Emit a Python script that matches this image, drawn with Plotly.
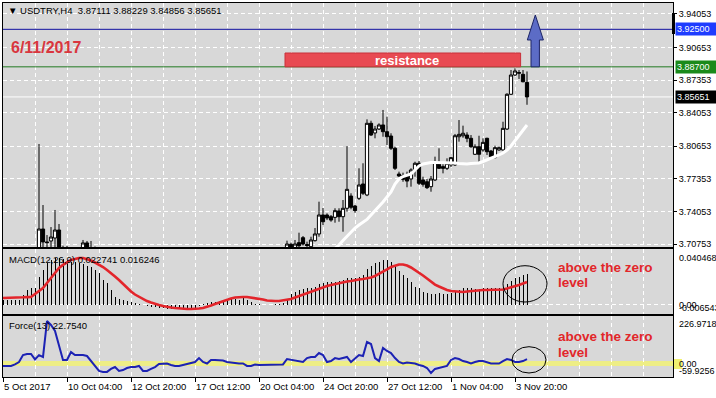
import plotly.graph_objects as go
from plotly.subplots import make_subplots

# ---------------- data ----------------
bars = list(range(132))
opens = [3.5680, 3.5710, 3.5740, 3.5770, 3.5750, 3.5810, 3.5880, 3.5920, 3.5990, 3.6380,
         3.7227, 3.7096, 3.7106, 3.7136, 3.7217, 3.6850, 3.6970, 3.6940, 3.6850, 3.6800,
         3.6920, 3.7086, 3.6990, 3.6960, 3.6920, 3.6850, 3.6760, 3.6710, 3.6700, 3.6640,
         3.6680, 3.6650, 3.6600, 3.6630, 3.6610, 3.6550, 3.6520, 3.6570, 3.6500, 3.6460,
         3.6510, 3.6480, 3.6420, 3.6470, 3.6510, 3.6490, 3.6530, 3.6570, 3.6600, 3.6650,
         3.6720, 3.6690, 3.6710, 3.6750, 3.6760, 3.6790, 3.6800, 3.6780, 3.6810, 3.6790,
         3.6760, 3.6740, 3.6720, 3.6700, 3.6730, 3.6710, 3.6750, 3.6780, 3.6820, 3.6870,
         3.6920, 3.6980, 3.7072, 3.7000, 3.7089, 3.7139, 3.7070, 3.7048, 3.7109, 3.7177,
         3.7369, 3.7369, 3.7352, 3.7345, 3.7410, 3.7352, 3.7437, 3.7561, 3.7460, 3.7538,
         3.7683, 3.7572, 3.8298, 3.8200, 3.8240, 3.8281, 3.8213, 3.8169, 3.8045, 3.7784,
         3.7767, 3.7764, 3.7734, 3.7825, 3.7893, 3.7724, 3.7706, 3.7656, 3.7724, 3.7903,
         3.7859, 3.7842, 3.7876, 3.7876, 3.8162, 3.8172, 3.8179, 3.8146, 3.7984, 3.8061,
         3.8028, 3.8146, 3.8017, 3.7950, 3.8028, 3.8028, 3.8240, 3.8592, 3.8787, 3.8804,
         3.8794, 3.87111]
highs = [3.5740, 3.5760, 3.5790, 3.5810, 3.5830, 3.5900, 3.5950, 3.6010, 3.6050, 3.8088,
         3.7470, 3.7166, 3.7247, 3.7420, 3.7278, 3.7058, 3.7055, 3.7000, 3.6950, 3.6950,
         3.7116, 3.7106, 3.7106, 3.7050, 3.6980, 3.6900, 3.6820, 3.6790, 3.6760, 3.6720,
         3.6750, 3.6700, 3.6680, 3.6700, 3.6650, 3.6620, 3.6600, 3.6620, 3.6580, 3.6540,
         3.6570, 3.6530, 3.6500, 3.6550, 3.6580, 3.6560, 3.6610, 3.6640, 3.6700, 3.6760,
         3.6780, 3.6750, 3.6790, 3.6810, 3.6830, 3.6850, 3.6860, 3.6840, 3.6870, 3.6840,
         3.6820, 3.6790, 3.6780, 3.6760, 3.6790, 3.6770, 3.6810, 3.6850, 3.6900, 3.6950,
         3.7000, 3.7109, 3.7089, 3.7116, 3.7190, 3.7156, 3.7099, 3.7149, 3.7237, 3.7504,
         3.7440, 3.7386, 3.7369, 3.7437, 3.7437, 3.7521, 3.8068, 3.7589, 3.7470, 3.7842,
         3.7893, 3.8338, 3.8324, 3.8271, 3.8298, 3.8433, 3.8365, 3.8197, 3.8061, 3.7808,
         3.7798, 3.7808, 3.7842, 3.7909, 3.7916, 3.7757, 3.7734, 3.7764, 3.7960, 3.8045,
         3.7893, 3.7943, 3.7955, 3.8190, 3.8331, 3.8274, 3.8207, 3.8179, 3.8085, 3.8172,
         3.8146, 3.8152, 3.8028, 3.8071, 3.8061, 3.8314, 3.8602, 3.8838, 3.8855, 3.8838,
         3.8838, 3.88229]
lows = [3.5650, 3.5690, 3.5720, 3.5730, 3.5740, 3.5800, 3.5860, 3.5900, 3.5970, 3.6350,
        3.6820, 3.6950, 3.6980, 3.6950, 3.6780, 3.6790, 3.6880, 3.6800, 3.6750, 3.6780,
        3.6900, 3.6950, 3.6900, 3.6880, 3.6800, 3.6720, 3.6680, 3.6650, 3.6600, 3.6580,
        3.6620, 3.6550, 3.6540, 3.6580, 3.6500, 3.6480, 3.6450, 3.6480, 3.6420, 3.6400,
        3.6440, 3.6380, 3.6350, 3.6420, 3.6450, 3.6430, 3.6480, 3.6520, 3.6560, 3.6610,
        3.6650, 3.6630, 3.6670, 3.6700, 3.6710, 3.6740, 3.6750, 3.6720, 3.6760, 3.6730,
        3.6700, 3.6680, 3.6660, 3.6650, 3.6680, 3.6660, 3.6700, 3.6740, 3.6780, 3.6830,
        3.6880, 3.6950, 3.6980, 3.6990, 3.7030, 3.7060, 3.7040, 3.7030, 3.7100, 3.7149,
        3.7268, 3.7318, 3.7301, 3.7291, 3.7301, 3.7200, 3.7402, 3.7427, 3.7392, 3.7521,
        3.7572, 3.7560, 3.8170, 3.8146, 3.8230, 3.8162, 3.8078, 3.8028, 3.7825, 3.7751,
        3.7706, 3.7650, 3.7656, 3.7757, 3.7673, 3.7656, 3.7632, 3.7605, 3.7713, 3.7835,
        3.7791, 3.7825, 3.7855, 3.7865, 3.8112, 3.8152, 3.8106, 3.8050, 3.7977, 3.7909,
        3.8010, 3.7977, 3.7936, 3.7943, 3.8020, 3.8020, 3.8230, 3.8585, 3.8777, 3.8747,
        3.8713, 3.84856]
closes = [3.5710, 3.5740, 3.5770, 3.5750, 3.5810, 3.5880, 3.5920, 3.5990, 3.6020, 3.7227,
          3.7096, 3.7090, 3.7146, 3.7217, 3.6850, 3.6970, 3.6940, 3.6850, 3.6800, 3.6920,
          3.7086, 3.6990, 3.6960, 3.6920, 3.6850, 3.6760, 3.6710, 3.6700, 3.6640, 3.6680,
          3.6650, 3.6600, 3.6630, 3.6610, 3.6550, 3.6520, 3.6570, 3.6500, 3.6460, 3.6510,
          3.6480, 3.6420, 3.6470, 3.6510, 3.6490, 3.6530, 3.6570, 3.6600, 3.6650, 3.6720,
          3.6690, 3.6710, 3.6750, 3.6760, 3.6790, 3.6800, 3.6780, 3.6810, 3.6790, 3.6760,
          3.6740, 3.6720, 3.6700, 3.6730, 3.6710, 3.6750, 3.6780, 3.6820, 3.6870, 3.6920,
          3.6980, 3.7075, 3.7000, 3.7075, 3.7058, 3.7075, 3.7060, 3.7116, 3.7177, 3.7369,
          3.7301, 3.7339, 3.7318, 3.7413, 3.7352, 3.7437, 3.7629, 3.7447, 3.7413, 3.7673,
          3.7589, 3.8298, 3.8179, 3.8240, 3.8281, 3.8213, 3.8162, 3.8045, 3.7842, 3.7764,
          3.7730, 3.7713, 3.7825, 3.7893, 3.7690, 3.7680, 3.7646, 3.7734, 3.7903, 3.7842,
          3.7842, 3.7893, 3.7950, 3.8172, 3.8186, 3.8197, 3.8146, 3.8061, 3.8061, 3.7984,
          3.8105, 3.8010, 3.7960, 3.8051, 3.8051, 3.8247, 3.8592, 3.8787, 3.8828, 3.8812,
          3.8719, 3.85651]
ma_white = [None] * 78 + [
    3.6800, 3.6850, 3.6900, 3.6950, 3.6995, 3.7030, 3.7065, 3.7111, 3.7156, 3.7202,
    3.7237, 3.7268, 3.7293, 3.7324, 3.7369, 3.7410, 3.7450, 3.7501, 3.7551, 3.7602,
    3.7683, 3.7734, 3.7759, 3.7769, 3.7784, 3.7825, 3.7865, 3.7886, 3.7896, 3.7901,
    3.7901, 3.7901, 3.7901, 3.7901, 3.7901, 3.7896, 3.7891, 3.7886, 3.7886, 3.7891,
    3.7896, 3.7896, 3.7911, 3.7926, 3.7946, 3.7962, 3.7977, 3.7997, 3.8027, 3.8068,
    3.8119, 3.8174, 3.8230, 3.8281]
macd_main = [0.0039, 0.0039, 0.0039, 0.0035, 0.0039, 0.0082, 0.0125, 0.0142, 0.0142, 0.0237,
             0.0297, 0.0358, 0.0384, 0.0401, 0.0401, 0.0392, 0.0384, 0.0366, 0.0366, 0.0358,
             0.0349, 0.0332, 0.0323, 0.0297, 0.0272, 0.0211, 0.0185, 0.0125, 0.0065, 0.0047,
             0.0039, 0.0030, 0.0022, 0.0013, 0.0004, -0.0004, -0.0013, -0.0018, -0.0022, -0.0026,
             -0.0030, -0.0035, -0.0039, -0.0039, -0.0039, -0.0035, -0.0035, -0.0030, -0.0030, -0.0013,
             0.0004, 0.0013, 0.0018, 0.0022, 0.0030, 0.0039, 0.0042, 0.0047, 0.0047, 0.0042,
             0.0053, 0.0039, 0.0022, 0.0004, 0.0004, 0.0000, -0.0004, 0.0000, 0.0004, 0.0004,
             0.0009, 0.0039, 0.0091, 0.0108, 0.0125, 0.0134, 0.0142, 0.0142, 0.0151, 0.0177,
             0.0185, 0.0194, 0.0194, 0.0194, 0.0203, 0.0211, 0.0228, 0.0228, 0.0228, 0.0237,
             0.0254, 0.0310, 0.0332, 0.0358, 0.0366, 0.0384, 0.0384, 0.0366, 0.0332, 0.0289,
             0.0254, 0.0228, 0.0194, 0.0151, 0.0142, 0.0108, 0.0099, 0.0091, 0.0091, 0.0099,
             0.0091, 0.0091, 0.0099, 0.0108, 0.0125, 0.0142, 0.0142, 0.0142, 0.0134, 0.0134,
             0.0142, 0.0142, 0.0142, 0.0142, 0.0142, 0.0151, 0.0177, 0.0203, 0.0228, 0.0237,
             0.0254, 0.0263]
macd_signal = [0.0056, 0.0056, 0.0056, 0.0058, 0.0060, 0.0062, 0.0064, 0.0065, 0.0091, 0.0116,
               0.0142, 0.0185, 0.0228, 0.0272, 0.0315, 0.0341, 0.0366, 0.0384, 0.0392, 0.0401,
               0.0401, 0.0392, 0.0379, 0.0362, 0.0345, 0.0323, 0.0297, 0.0272, 0.0241, 0.0211,
               0.0177, 0.0142, 0.0112, 0.0086, 0.0065, 0.0047, 0.0030, 0.0017, 0.0004, -0.0004,
               -0.0013, -0.0022, -0.0026, -0.0030, -0.0034, -0.0039, -0.0039, -0.0039, -0.0039, -0.0034,
               -0.0030, -0.0022, -0.0009, 0.0004, 0.0017, 0.0030, 0.0043, 0.0052, 0.0060, 0.0065,
               0.0065, 0.0065, 0.0060, 0.0056, 0.0052, 0.0043, 0.0034, 0.0030, 0.0030, 0.0030,
               0.0034, 0.0039, 0.0047, 0.0060, 0.0073, 0.0086, 0.0099, 0.0112, 0.0125, 0.0138,
               0.0151, 0.0159, 0.0168, 0.0177, 0.0185, 0.0190, 0.0198, 0.0203, 0.0211, 0.0216,
               0.0220, 0.0224, 0.0233, 0.0246, 0.0263, 0.0280, 0.0302, 0.0323, 0.0336, 0.0345,
               0.0345, 0.0336, 0.0319, 0.0297, 0.0276, 0.0250, 0.0224, 0.0194, 0.0172, 0.0155,
               0.0138, 0.0125, 0.0116, 0.0112, 0.0108, 0.0108, 0.0112, 0.0116, 0.0121, 0.0125,
               0.0125, 0.0125, 0.0125, 0.0125, 0.0125, 0.0129, 0.0138, 0.0147, 0.0159, 0.0168,
               0.0181, 0.0194]
force = [-13, -13, -13, -5, 8, 45, 51, 51, 22, 45,
         35, 227, 206, 174, 99, 19, 19, 61, 45, 45,
         45, 40, 13, -13, -40, -45, -45, -29, -19, -40,
         -35, -24, -19, -19, -13, -40, -40, -29, -19, -3,
         0, 0, -8, -13, -13, -8, -5, 0, 8, 29,
         8, 0, 19, 19, 19, 16, 8, 5, 0, 0,
         0, -13, -13, -5, -8, -8, -8, -8, -8, -8,
         -5, 24, 19, 16, 13, 8, 29, 35, 35, 56,
         45, 8, 13, 29, 24, 29, 35, 8, 29, 45,
         40, 115, 104, 29, 13, 83, 67, 56, 29, 8,
         0, 5, 3, 0, -8, -13, -24, -51, -29, -24,
         -19, -13, 19, 29, 24, 13, 8, 0, 8, 13,
         13, 8, 0, 0, 0, 13, 24, 19, 8, 8,
         13, 23]

x_label_bars = [0, 16, 32, 48, 64, 80, 96, 112, 128]
x_labels = ["5 Oct 2017", "10 Oct 04:00", "12 Oct 20:00", "17 Oct 12:00", "20 Oct 04:00",
            "24 Oct 20:00", "27 Oct 12:00", "1 Nov 04:00", "3 Nov 20:00"]
x_grid_minor = [8, 24, 40, 56, 72, 88, 104, 120, 136, 144, 152, 160]
price_ticks = [3.70753, 3.74053, 3.77353, 3.80653, 3.84053, 3.87353, 3.90653, 3.94053]
level_blue = 3.92500
level_green = 3.88700
bid_price = 3.85651
resistance_top = 3.9010
macd_top_label = 0.040468
macd_bottom_label = -0.006543
force_top_label = 226.9718
force_bottom_label = -59.9256

# ---------------- layout helpers (pixel geometry) ----------------
W, H = 716, 398
ML, MR, MT, MB = 3, 43, 3, 21
PW, PH = W - ML - MR, H - MT - MB


def py(ypix):
    return (H - MB - ypix) / PH


def px(xpix):
    return (xpix - ML) / PW


FONT = "Liberation Sans, Arial, sans-serif"
RFS = 9  # right-scale font size
GRID = dict(showgrid=True, gridcolor="white", griddash="4px,3px", gridwidth=1)

fig = make_subplots(rows=3, cols=1, shared_xaxes=True, vertical_spacing=0)

fig.add_trace(go.Candlestick(
    x=bars, open=opens, high=highs, low=lows, close=closes,
    increasing=dict(line=dict(color="black", width=1), fillcolor="white"),
    decreasing=dict(line=dict(color="black", width=1), fillcolor="black"),
    whiskerwidth=0, showlegend=False, hoverinfo="skip"), row=1, col=1)
fig.add_trace(go.Scatter(x=bars, y=ma_white, mode="lines",
                         line=dict(color="white", width=3), showlegend=False,
                         hoverinfo="skip"), row=1, col=1)
fig.add_trace(go.Bar(x=bars, y=macd_main, width=0.25, marker=dict(color="black", line=dict(width=0)),
                     showlegend=False, hoverinfo="skip"), row=2, col=1)
fig.add_trace(go.Scatter(x=bars, y=macd_signal, mode="lines",
                         line=dict(color="#e3252b", width=2.6), showlegend=False,
                         hoverinfo="skip"), row=2, col=1)
fig.add_trace(go.Scatter(x=bars, y=force, mode="lines",
                         line=dict(color="#1c22b4", width=2), showlegend=False,
                         hoverinfo="skip"), row=3, col=1)

xcommon = dict(range=[0, PW / 4], tickmode="array", tickvals=list(range(0, 161, 16)),
               showticklabels=False, showline=True, linecolor="black", linewidth=1,
               mirror=True, zeroline=False, rangeslider=dict(visible=False),
               minor=dict(tickvals=x_grid_minor, showgrid=True, gridcolor="white",
                          griddash="4px,3px", ticks=""), **GRID)
fig.update_layout(
    xaxis=dict(xcommon), xaxis2=dict(xcommon),
    xaxis3=dict(xcommon, tickvals=x_label_bars, ticks="outside", ticklen=4,
                tickcolor="black",
                minor=dict(tickvals=x_grid_minor + [144, 160], showgrid=True,
                           gridcolor="white", griddash="4px,3px", ticks="")),
)

fig.update_layout(
    yaxis=dict(domain=[py(247), 1], range=[3.9547 - 0.001013 * 247, 3.9547 - 0.001013 * 3],
               side="right", tickmode="array", tickvals=price_ticks,
               ticktext=[f"{v:.5f}" for v in price_ticks], ticks="outside", ticklen=3,
               tickcolor="black", tickfont=dict(family=FONT, size=RFS, color="black"),
               showline=True, linecolor="black", mirror=True, zeroline=False, **GRID),
    yaxis2=dict(domain=[py(314), py(249)], range=[(304.5 - 314) / 1160, (304.5 - 249) / 1160],
                tickmode="array", tickvals=[0], showticklabels=False, showline=True,
                linecolor="black", mirror=True, zeroline=False, **GRID),
    yaxis3=dict(domain=[0, py(316)], range=[(363.5 - 377) / 0.187, (363.5 - 316) / 0.187],
                showgrid=False, showticklabels=False, showline=True, linecolor="black",
                mirror=True, zeroline=False),
)

shapes = []
# force zero level (yellow)
shapes.append(dict(type="line", xref="x3", yref="y3", x0=0, x1=PW / 4, y0=0, y1=0,
                   line=dict(color="#eeee86", width=5), layer="below"))
# horizontal levels
shapes.append(dict(type="line", xref="x", yref="y", x0=0, x1=PW / 4, y0=level_blue,
                   y1=level_blue, line=dict(color="#1010a0", width=1)))
shapes.append(dict(type="line", xref="x", yref="y", x0=0, x1=PW / 4, y0=level_green,
                   y1=level_green, line=dict(color="#217a21", width=1)))
shapes.append(dict(type="line", xref="x", yref="y", x0=0, x1=PW / 4, y0=bid_price,
                   y1=bid_price, line=dict(color="white", width=1), layer="below"))
# resistance box
shapes.append(dict(type="rect", xref="x", yref="y", x0=70.5, x1=129.4, y0=level_green,
                   y1=resistance_top, fillcolor="#e84a52", line=dict(color="#c8303a", width=1)))
# blue arrow
shapes.append(dict(type="path", xref="x", yref="y",
                   path="M 132,3.887 L 134.1,3.887 L 134.1,3.9142 L 135.1,3.9142 "
                        "L 133.08,3.9395 L 131.08,3.9142 L 132,3.9142 Z",
                   fillcolor="#5c6cc6", line=dict(color="#1c2466", width=1)))
# ellipses
shapes.append(dict(type="circle", xref="x2", yref="paper", x0=125, x1=136, y0=py(302),
                   y1=py(265.7), line=dict(color="black", width=1)))
shapes.append(dict(type="circle", xref="x3", yref="paper", x0=127.25, x1=135.75, y0=py(373),
                   y1=py(346.7), line=dict(color="black", width=1)))
# chart-shift marker on the right axis
shapes.append(dict(type="rect", xref="paper", yref="paper", x0=1 - 1 / PW, x1=1 + 2 / PW,
                   y0=py(34), y1=py(13), fillcolor="black", line=dict(width=0)))
# yellow highlight behind the force zero label
shapes.append(dict(type="rect", xref="paper", yref="paper", x0=1 + 1 / PW, x1=1 + 9 / PW,
                   y0=py(369), y1=py(359), fillcolor="#f0f070", line=dict(width=0)))

ann = []
ann.append(dict(xref="paper", yref="paper", x=px(6), y=py(11), xanchor="left", yanchor="middle",
                text="▼ USDTRY,H4\u00a0 3.87111 3.88229 3.84856 3.85651", showarrow=False,
                font=dict(family=FONT, size=9.5, color="black")))
ann.append(dict(xref="paper", yref="paper", x=px(9), y=py(47), xanchor="left", yanchor="middle",
                text="<b>6/11/2017</b>", showarrow=False,
                font=dict(family=FONT, size=16, color="#d9363e")))
ann.append(dict(xref="x", yref="y", x=101.1, y=3.8939, text="<b>resistance</b>",
                showarrow=False, font=dict(family=FONT, size=13, color="white")))
ann.append(dict(xref="paper", yref="paper", x=px(7), y=py(259), xanchor="left",
                yanchor="middle", text="MACD(12,26,9) 0.022741 0.016246", showarrow=False,
                font=dict(family=FONT, size=9.5, color="black")))
ann.append(dict(xref="paper", yref="paper", x=px(7), y=py(325.5), xanchor="left",
                yanchor="middle", text="Force(13) 22.7540", showarrow=False,
                font=dict(family=FONT, size=9.5, color="black")))
for txt, yy in [("above the zero", 267), ("level", 282.5), ("above the zero", 336),
                ("level", 352)]:
    ann.append(dict(xref="paper", yref="paper", x=px(556), y=py(yy), xanchor="left",
                    yanchor="middle", text=f"<b>{txt}</b>", showarrow=False,
                    font=dict(family=FONT, size=13.5, color="#e2262a")))
# price boxes on the right axis
for val, bg in [(level_blue, "#1e3cff"), (level_green, "#1a8a1a"), (bid_price, "black")]:
    ann.append(dict(xref="paper", yref="y", x=1 + 2 / PW, y=val, xanchor="left",
                    yanchor="middle", text=f"{val:.5f}", showarrow=False, bgcolor=bg,
                    width=38, align="left", borderpad=1,
                    font=dict(family=FONT, size=RFS, color="white")))
# indicator window scale labels
RX = 1 + 4 / PW
ann.append(dict(xref="paper", yref="y2", x=RX, y=macd_top_label, xanchor="left",
                yanchor="middle", text=f"{macd_top_label:.6f}", showarrow=False,
                font=dict(family=FONT, size=RFS, color="black")))
ann.append(dict(xref="paper", yref="y2", x=RX, y=macd_bottom_label, yshift=4,
                xanchor="left", yanchor="middle", text=f"{macd_bottom_label:.6f}",
                showarrow=False, font=dict(family=FONT, size=RFS, color="black")))
ann.append(dict(xref="paper", yref="y2", x=RX, y=0, xanchor="left", yanchor="middle",
                text="0.00", showarrow=False, font=dict(family=FONT, size=RFS, color="black")))
ann.append(dict(xref="paper", yref="y3", x=RX, y=force_top_label, yshift=-3,
                xanchor="left", yanchor="middle", text=f"{force_top_label:.4f}",
                showarrow=False, font=dict(family=FONT, size=RFS, color="black")))
ann.append(dict(xref="paper", yref="y3", x=RX, y=force_bottom_label, yshift=4,
                xanchor="left", yanchor="middle", text=f"{force_bottom_label:.4f}",
                showarrow=False, font=dict(family=FONT, size=RFS, color="black")))
ann.append(dict(xref="paper", yref="y3", x=RX, y=0, xanchor="left", yanchor="middle",
                text="0.00", showarrow=False, font=dict(family=FONT, size=RFS, color="black")))
# time axis labels (left-aligned at the tick, MT4 style)
for b, lab in zip(x_label_bars, x_labels):
    ann.append(dict(xref="x3", yref="paper", x=b, y=py(386.5), xanchor="left",
                    yanchor="middle", text=lab, showarrow=False, xshift=-1,
                    font=dict(family=FONT, size=9.5, color="black")))

fig.update_layout(
    width=W, height=H, margin=dict(l=ML, r=MR, t=MT, b=MB, pad=0),
    paper_bgcolor="white", plot_bgcolor="#d8d8d8", showlegend=False,
    shapes=shapes, annotations=ann, bargap=0, hovermode=False,
    boxgap=0.2, boxgroupgap=0,
)

fig.write_html("out.html", config={"displayModeBar": False, "staticPlot": True},
               post_script="document.body.style.margin='0';document.body.style.overflow='hidden';")
